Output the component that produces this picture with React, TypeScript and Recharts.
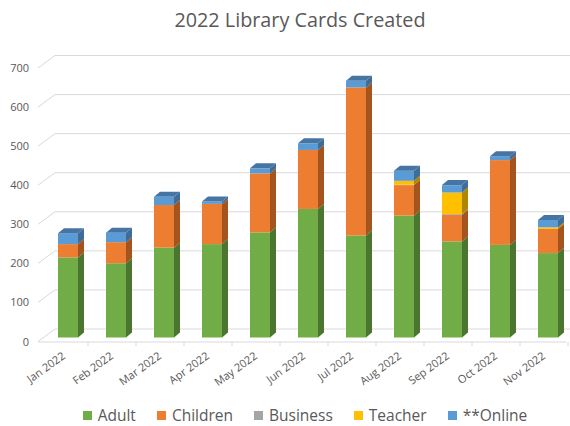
import { BarChart, Bar, XAxis, YAxis, CartesianGrid, Legend } from "recharts";

const months = [
  "Jan 2022", "Feb 2022", "Mar 2022", "Apr 2022", "May 2022", "Jun 2022",
  "Jul 2022", "Aug 2022", "Sep 2022", "Oct 2022", "Nov 2022",
];
const adult    = [205, 190, 230, 239, 269, 329, 261, 312, 246, 237, 216];
const children = [34, 54, 109, 103, 151, 151, 379, 78, 68, 217, 62];
const business = [0, 0, 0, 0, 0, 0, 0, 1, 2, 0, 0];
const teacher  = [0, 0, 0, 0, 0, 0, 0, 10, 55, 0, 4];
const online   = [28, 24, 21, 6, 13, 17, 17, 26, 19, 10, 19];
const yTicks = [0, 100, 200, 300, 400, 500, 600, 700];
const seriesOrder = ["Adult", "Children", "Business", "Teacher", "**Online"];

const data = months.map((m, i) => ({
  month: m,
  adult: adult[i],
  children: children[i],
  business: business[i],
  teacher: teacher[i],
  online: online[i],
}));

const FONT = "'Open Sans', sans-serif";
const TEXT = "#595959";
const GRID = "#d9d9d9";
const DX = 6;
const DY = 5;

// front face + dark side, top face only on the last segment
function box3d(front: string, side: string, top?: string) {
  return (p: any) => {
    const { x, y, width, height } = p;
    if (!height || height <= 0) return <g />;
    const fx = x + 4;
    const r = fx + width;
    return (
      <g>
        <rect x={fx} y={y} width={width} height={height} fill={front} />
        <polygon
          points={`${r},${y} ${r + DX},${y - DY} ${r + DX},${y + height - DY} ${r},${y + height}`}
          fill={side}
        />
        {top && (
          <polygon
            points={`${fx},${y} ${r},${y} ${r + DX},${y - DY} ${fx + DX},${y - DY}`}
            fill={top}
          />
        )}
      </g>
    );
  };
}

function gridLine(p: any) {
  const { y1, x2 } = p;
  const fy = y1 + 4;
  const by = y1 - 8.5;
  return (
    <path
      key={p.key ?? `g-${y1}`}
      d={`M38,${fy} L55,${by} L${x2 + 2},${by}`}
      stroke={GRID}
      strokeWidth={1}
      fill="none"
    />
  );
}

function YTick({ y, payload }: any) {
  return (
    <text x={29} y={y + 3.5} textAnchor="end" dominantBaseline="central"
      fill={TEXT} fontSize={11} fontFamily={FONT}>
      {payload.value}
    </text>
  );
}

function XTick({ x, y, payload }: any) {
  const ax = x + 2;
  const ay = y + 14;
  return (
    <text x={ax} y={ay} textAnchor="end" transform={`rotate(-36, ${ax}, ${ay})`}
      fill={TEXT} fontSize={11} fontFamily={FONT}>
      {payload.value}
    </text>
  );
}

function LegendBox({ payload }: any) {
  const items = seriesOrder
    .map((n) => payload.find((it: any) => it.value === n))
    .filter(Boolean);
  return (
    <div style={{ display: "flex", justifyContent: "center", alignItems: "center", gap: 21, fontFamily: FONT, height: 21 }}>
      {items.map((it: any) => (
        <div key={it.value} style={{ display: "flex", alignItems: "center" }}>
          <span style={{ width: 9, height: 9, background: it.color, marginRight: 6, display: "inline-block" }} />
          <span style={{ fontSize: 15.5, lineHeight: "21px", color: TEXT }}>{it.value}</span>
        </div>
      ))}
    </div>
  );
}

export default function App() {
  return (
    <div style={{ position: "absolute", left: 0, top: 0, width: 570, height: 426, background: "#fff" }}>
      <div
        style={{
          position: "absolute", left: 30, top: 6, width: 540, textAlign: "center",
          fontFamily: FONT, fontSize: 19.8, color: TEXT,
        }}
      >
        2022 Library Cards Created
      </div>
      <BarChart
        width={570}
        height={426}
        data={data}
        margin={{ top: 64, right: 2, left: 0, bottom: 0 }}
        barSize={20}
      >
        <CartesianGrid vertical={false} horizontal={gridLine} />
        <XAxis
          dataKey="month"
          height={67.5}
          interval={0}
          axisLine={{ stroke: GRID, transform: "translate(-2,4.5)" }}
          tickLine={{ stroke: GRID, transform: "translate(24,4.5)" }}
          tickSize={4}
          tick={<XTick />}
        />
        <YAxis
          width={40}
          domain={[0, 700]}
          ticks={yTicks}
          axisLine={false}
          tickLine={false}
          tick={<YTick />}
        />
        <Legend
          verticalAlign="bottom"
          height={21}
          wrapperStyle={{ left: 40, width: 530, top: 405 }}
          content={<LegendBox />}
        />
        <Bar dataKey="adult" name="Adult" stackId="a" fill="#70AD47"
          shape={box3d("#70AD47", "#4B7530")} isAnimationActive={false} />
        <Bar dataKey="children" name="Children" stackId="a" fill="#ED7D31"
          shape={box3d("#ED7D31", "#A4541F")} isAnimationActive={false} />
        <Bar dataKey="business" name="Business" stackId="a" fill="#A5A5A5"
          shape={box3d("#A5A5A5", "#727272")} isAnimationActive={false} />
        <Bar dataKey="teacher" name="Teacher" stackId="a" fill="#FFC000"
          shape={box3d("#FFC000", "#B08500")} isAnimationActive={false} />
        <Bar dataKey="online" name="**Online" stackId="a" fill="#5B9BD5"
          shape={box3d("#5B9BD5", "#3E6D98", "#4674A3")} isAnimationActive={false} />
      </BarChart>
    </div>
  );
}
